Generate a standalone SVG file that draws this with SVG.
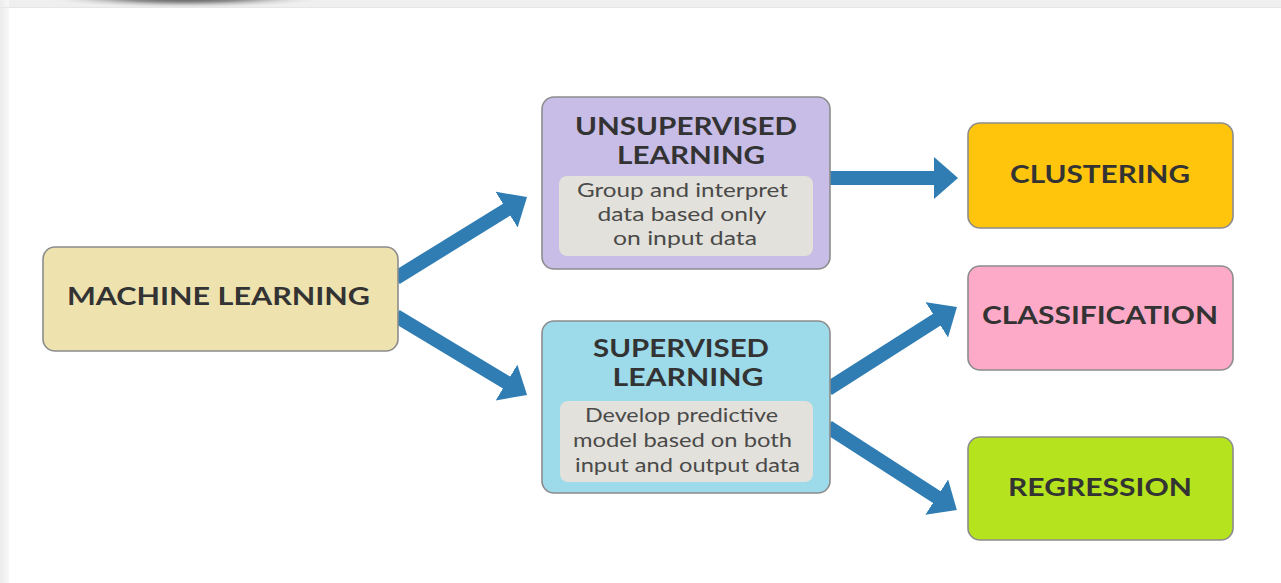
<svg xmlns="http://www.w3.org/2000/svg" width="1281" height="583" viewBox="0 0 1281 583">
<defs>
<style>
.node{stroke:#8c8c8c;stroke-width:1.6}
.inner{fill:#e3e1db;stroke:none}
.title{font-family:Lato,"Liberation Sans",sans-serif;font-weight:bold;font-size:25px;fill:#333;text-anchor:middle}
.body{font-family:Lato,"Liberation Sans",sans-serif;font-size:18.5px;fill:#4a4a4a;text-anchor:middle}
.conn{stroke:#2f7db3;stroke-width:14;fill:none;marker-end:url(#head)}
</style>
<marker id="head" markerUnits="userSpaceOnUse" markerWidth="26" markerHeight="44" refX="2" refY="21" orient="auto">
<path d="M0,0 L24,21 L0,42 Z" fill="#2f7db3"/>
</marker>
<linearGradient id="leftg" x1="0" y1="0" x2="1" y2="0">
<stop offset="0" stop-color="#ececec"/>
<stop offset="1" stop-color="#f7f7f7"/>
</linearGradient>
<radialGradient id="shadow" cx="0.5" cy="0.5" r="0.5">
<stop offset="0" stop-color="#111" stop-opacity="0.95"/>
<stop offset="0.5" stop-color="#555" stop-opacity="0.6"/>
<stop offset="1" stop-color="#fff" stop-opacity="0"/>
</radialGradient>
</defs>
<rect x="0" y="0" width="1281" height="583" fill="#ffffff"/>
<rect x="0" y="0" width="1281" height="7" fill="#efefef"/>
<rect x="0" y="0" width="9" height="583" fill="url(#leftg)"/>
<ellipse cx="185" cy="-4" rx="150" ry="13" fill="url(#shadow)"/>
<rect x="0" y="7" width="1281" height="1" fill="#e6e6e6"/>

<g id="connectors">
<line class="conn" x1="396" y1="278" x2="508.3" y2="208.6"/>
<line class="conn" x1="396" y1="316" x2="508.2" y2="383.6"/>
<line class="conn" x1="828" y1="178" x2="936" y2="178"/>
<line class="conn" x1="828" y1="389" x2="938.4" y2="318.7"/>
<line class="conn" x1="828" y1="427" x2="938.4" y2="498.2"/>
</g>

<g id="machine-learning">
<rect class="node" x="43" y="247" width="355" height="104" rx="12" fill="#eee2ae"/>
<text class="title" x="218.5" y="305" textLength="303" lengthAdjust="spacingAndGlyphs">MACHINE LEARNING</text>
</g>

<g id="unsupervised">
<rect class="node" x="542" y="97" width="288" height="172" rx="12" fill="#c7bde6"/>
<text class="title" x="686" y="135" textLength="222" lengthAdjust="spacingAndGlyphs">UNSUPERVISED</text>
<text class="title" x="691" y="164" textLength="148" lengthAdjust="spacingAndGlyphs">LEARNING</text>
<rect class="inner" x="559" y="176" width="254" height="80" rx="8"/>
<text class="body" x="682.5" y="197" textLength="211" lengthAdjust="spacingAndGlyphs">Group and interpret</text>
<text class="body" x="682" y="221" textLength="169" lengthAdjust="spacingAndGlyphs">data based only</text>
<text class="body" x="685" y="245" textLength="144" lengthAdjust="spacingAndGlyphs">on input data</text>
</g>

<g id="supervised">
<rect class="node" x="542" y="321" width="288" height="172" rx="12" fill="#9ddaea"/>
<text class="title" x="681" y="357" textLength="176" lengthAdjust="spacingAndGlyphs">SUPERVISED</text>
<text class="title" x="688" y="386" textLength="151" lengthAdjust="spacingAndGlyphs">LEARNING</text>
<rect class="inner" x="560" y="401" width="253" height="81" rx="8"/>
<text class="body" x="681.5" y="422" textLength="193" lengthAdjust="spacingAndGlyphs">Develop predictive</text>
<text class="body" x="682.5" y="447" textLength="219" lengthAdjust="spacingAndGlyphs">model based on both</text>
<text class="body" x="687.5" y="472" textLength="225" lengthAdjust="spacingAndGlyphs">input and output data</text>
</g>

<g id="clustering">
<rect class="node" x="968" y="123" width="265" height="105" rx="12" fill="#ffc50c"/>
<text class="title" x="1100" y="183" textLength="180" lengthAdjust="spacingAndGlyphs">CLUSTERING</text>
</g>

<g id="classification">
<rect class="node" x="968" y="266" width="265" height="104" rx="12" fill="#fcaac8"/>
<text class="title" x="1100" y="324" textLength="236" lengthAdjust="spacingAndGlyphs">CLASSIFICATION</text>
</g>

<g id="regression">
<rect class="node" x="968" y="437" width="265" height="103" rx="12" fill="#b5e41f"/>
<text class="title" x="1100" y="496" textLength="184" lengthAdjust="spacingAndGlyphs">REGRESSION</text>
</g>
</svg>
